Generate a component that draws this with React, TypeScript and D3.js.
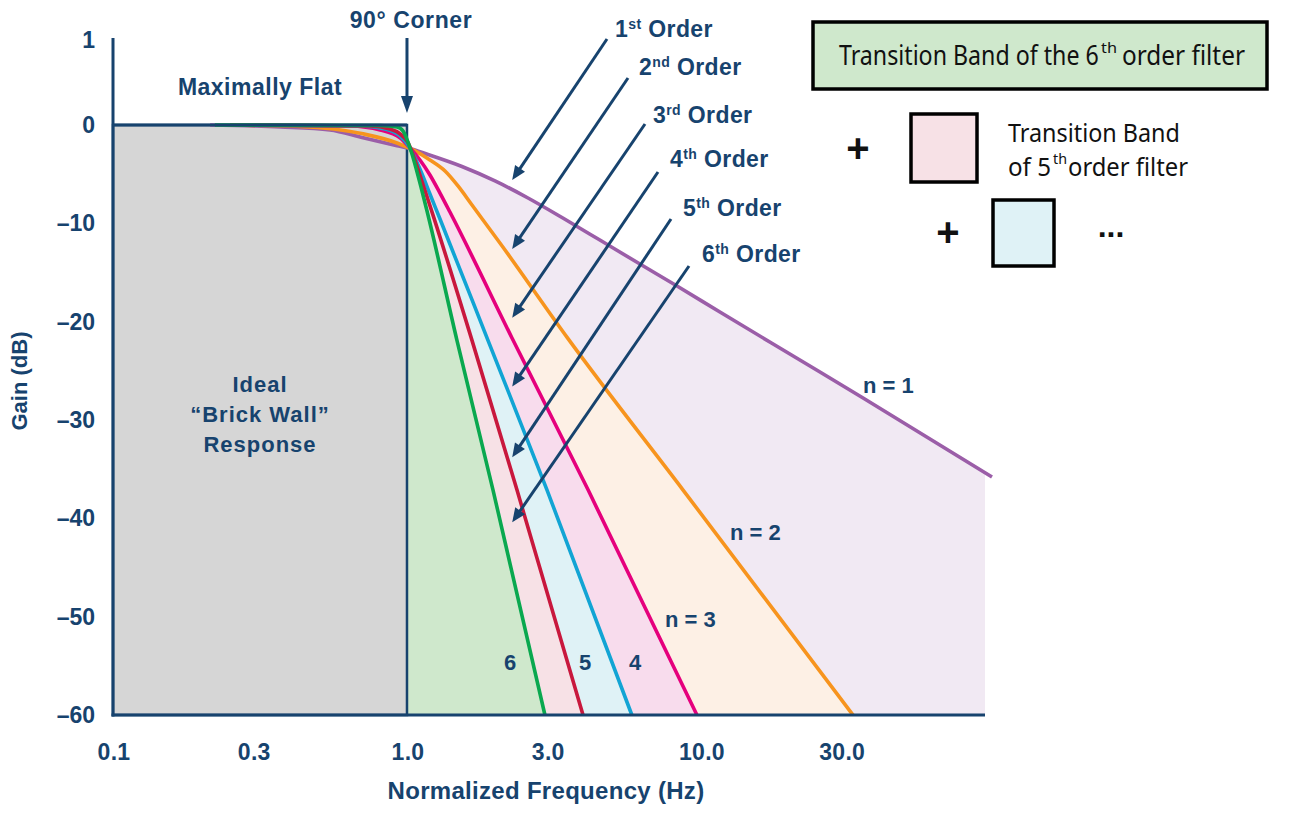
import React, { useLayoutEffect, useRef, useState } from "react";
import * as d3 from "d3";

// ---------- data ----------
type Pt = [number, number]; // [normalized frequency, gain dB]

const FREQ_TICKS = [0.1, 0.3, 1.0, 3.0, 10.0, 30.0];
const FREQ_TICK_LABELS = ["0.1", "0.3", "1.0", "3.0", "10.0", "30.0"];
const GAIN_TICKS = [1, 0, -10, -20, -30, -40, -50, -60];
const GAIN_TICK_LABELS = ["1", "0", "–10", "–20", "–30", "–40", "–50", "–60"];

const ORDER_1: Pt[] = [
  [0.214, 0], [0.37, -0.2], [0.547, -0.5], [0.709, -1.3], [0.925, -2.1], [1.008, -2.35],
  [1.179, -3.0], [1.538, -4.22], [1.992, -5.69], [2.58, -7.42], [3.39, -9.46], [4.53, -11.7],
  [6.2, -14.14], [8.29, -16.37], [11.6, -19.02], [21.7, -23.9], [35.6, -27.76], [97.7, -35.8],
];
const ORDER_2: Pt[] = [
  [0.25, 0], [0.433, -0.15], [0.709, -0.9], [0.925, -1.83], [1.065, -2.64], [1.197, -3.56],
  [1.347, -4.68], [1.491, -6.2], [1.664, -8.14], [2.071, -12.0], [3.53, -21.73], [8.68, -37.1],
  [32.9, -60],
];
const ORDER_3: Pt[] = [
  [0.292, 0], [0.64, -0.1], [0.81, -0.5], [0.947, -1.3], [1.024, -2.34], [1.107, -3.56],
  [1.197, -5.08], [1.295, -6.92], [1.4, -8.85], [2.276, -21.66], [4.13, -37.1], [9.69, -60],
];
const ORDER_4: Pt[] = [
  [0.27, 0], [0.692, -0.1], [0.842, -0.4], [0.947, -1.1], [1.008, -2.03], [1.065, -3.36],
  [1.125, -4.98], [1.197, -7.02], [1.295, -9.56], [1.886, -21.9], [2.993, -37.1], [5.82, -60],
];
const ORDER_5: Pt[] = [
  [0.25, 0], [0.748, -0.1], [0.875, -0.4], [0.947, -0.9], [1.008, -1.8], [1.065, -3.6],
  [1.125, -5.75], [1.197, -8.2], [1.664, -21.9], [2.366, -37.1], [3.97, -60],
];
const ORDER_6: Pt[] = [
  [0.222, 0], [0.81, -0.05], [0.925, -0.2], [0.969, -0.6], [1.008, -1.73], [1.04, -2.95],
  [1.073, -4.37], [1.116, -6.31], [1.17, -8.75], [1.479, -21.9], [1.961, -37.1], [2.946, -60],
];

const ORDERS = [1, 2, 3, 4, 5, 6];
const ORDER_POINTS = [ORDER_1, ORDER_2, ORDER_3, ORDER_4, ORDER_5, ORDER_6];
const LINE_COLORS = ["#9b5ea8", "#f7941e", "#e5007d", "#12a4d4", "#c8183d", "#0aa84f"];
const BAND_COLORS = ["#f1e9f3", "#fdf0e5", "#f8dced", "#dff2f6", "#f7e1e6", "#cfe8cc"];

const ORDER_SUFFIX = ["st", "nd", "rd", "th", "th", "th"];
const ARROW_TIP_FREQ = 2.28;
const ARROW_TIP_GAIN = [-5.6, -12.6, -19.6, -26.6, -33.8, -40.4];

const LEGEND_TEXTS = [
  "Transition Band of the 6", "th", "order filter",
  "Transition Band", "of 5", "th", "order filter",
];

const F_MIN = 0.1;
const F_MAX = 92.5;
const G_MIN = -60;

// ---------- styling ----------
const NAVY = "#17436e";
const FONT = "'Liberation Sans', Arial, Helvetica, sans-serif";
const LEG_FONT = "'Noto Sans', 'Open Sans', sans-serif";

// legend text layout: [x, baseline y, font size, target width]
const LEGEND_LAYOUT: [number, number, number, number][] = [
  [839, 65, 27, 260], [1101, 53, 14, 16], [1122, 65, 27, 123],
  [1008, 142, 26, 172], [1008, 176, 26, 43], [1053, 164, 14, 14], [1068, 176, 26, 120],
];

function Arrow({ x1, y1, x2, y2, head = 14, hw = 6, w = 3 }: any) {
  const dx = x2 - x1, dy = y2 - y1;
  const L = Math.hypot(dx, dy);
  const ux = dx / L, uy = dy / L;
  const bx = x2 - ux * head, by = y2 - uy * head;
  const px = -uy, py = ux;
  return (
    <g>
      <line x1={x1} y1={y1} x2={bx + ux * 2} y2={by + uy * 2} stroke={NAVY} strokeWidth={w} />
      <polygon
        points={`${x2},${y2} ${bx + px * hw},${by + py * hw} ${bx - px * hw},${by - py * hw}`}
        fill={NAVY}
      />
    </g>
  );
}

export default function App() {
  const legRefs = useRef<(SVGTextElement | null)[]>([]);
  const [legScale, setLegScale] = useState<number[] | null>(null);

  useLayoutEffect(() => {
    const s = LEGEND_LAYOUT.map((l, i) => {
      const el = legRefs.current[i];
      const w = el ? el.getComputedTextLength() : l[3];
      return w > 0 ? l[3] / w : 1;
    });
    setLegScale(s);
  }, []);

  const x = d3.scaleLog().domain([F_MIN, F_MAX]).range([113, 985]);
  const y = d3.scaleLinear().domain([G_MIN, 0, 1]).range([715, 125, 40]);

  const line = d3
    .line<Pt>()
    .x((d) => x(d[0]))
    .y((d) => y(d[1]))
    .curve(d3.curveMonotoneX);
  const area = d3
    .area<Pt>()
    .x((d) => x(d[0]))
    .y0(y(G_MIN))
    .y1((d) => y(d[1]))
    .curve(d3.curveMonotoneX);

  const x0 = x(F_MIN), x1 = x(1), xEnd = x(F_MAX);
  const yTop = y(0), yBot = y(G_MIN);

  // annotation layout (label anchors, pixels)
  const labelPos: [number, number][] = [
    [615, 37], [639, 75], [653, 123], [670, 167], [683, 216], [702, 262],
  ];
  const tailPos: [number, number][] = [
    [607, 39], [628, 78], [645, 124], [658, 172], [671, 219], [689, 266],
  ];

  const txt = { fontFamily: FONT, fontWeight: 700, fill: NAVY } as any;

  return (
    <svg
      width={1300}
      height={817}
      style={{ position: "absolute", left: 0, top: 0, display: "block", background: "#fff" }}
    >
      <defs>
        <clipPath id="bandClip">
          <rect x={x1} y={0} width={xEnd - x1} height={yBot} />
        </clipPath>
      </defs>

      {/* transition band fills */}
      <g clipPath="url(#bandClip)">
        {ORDER_POINTS.map((pts, i) => (
          <path key={"a" + i} d={area(pts) as string} fill={BAND_COLORS[i]} />
        ))}
      </g>

      {/* ideal brick wall */}
      <rect
        x={x0}
        y={yTop}
        width={x1 - x0}
        height={yBot - yTop}
        fill="#d6d6d6"
        stroke={NAVY}
        strokeWidth={2.5}
      />

      {/* response curves */}
      {ORDER_POINTS.map((pts, i) => (
        <path
          key={"l" + i}
          d={line(pts) as string}
          fill="none"
          stroke={LINE_COLORS[i]}
          strokeWidth={3.6}
          strokeLinejoin="round"
        />
      ))}

      {/* axes */}
      <line x1={x0} y1={y(1) - 2} x2={x0} y2={yBot + 1.5} stroke={NAVY} strokeWidth={3} />
      <line x1={x0 - 1.5} y1={yBot} x2={xEnd} y2={yBot} stroke={NAVY} strokeWidth={3} />
      <line x1={x0} y1={yTop} x2={x1} y2={yTop} stroke={NAVY} strokeWidth={3} />

      {GAIN_TICKS.map((g, i) => (
        <text key={"gy" + i} x={95} y={y(g) + 8} textAnchor="end" fontSize={23} {...txt}>
          {GAIN_TICK_LABELS[i]}
        </text>
      ))}
      {FREQ_TICKS.map((f, i) => (
        <text key={"fx" + i} x={x(f) + 1} y={760} textAnchor="middle" fontSize={23} letterSpacing={0.3} {...txt}>
          {FREQ_TICK_LABELS[i]}
        </text>
      ))}
      <text x={546} y={799} textAnchor="middle" fontSize={24} letterSpacing={0.3} {...txt}>
        Normalized Frequency (Hz)
      </text>
      <text
        transform={`translate(27,381) rotate(-90)`}
        textAnchor="middle"
        fontSize={22}
        {...txt}
      >
        Gain (dB)
      </text>

      {/* annotations inside plot */}
      <text x={(x0 + x1) / 2} y={95} textAnchor="middle" fontSize={23} letterSpacing={0.5} {...txt}>
        Maximally Flat
      </text>
      <text x={x1 + 4} y={28} textAnchor="middle" fontSize={23} letterSpacing={0.6} {...txt}>
        90° Corner
      </text>
      <Arrow x1={x1} y1={38} x2={x1} y2={yTop - 12} head={17} hw={6} />

      <g fontFamily={FONT} fontSize={22} fill={NAVY} textAnchor="middle" fontWeight={700} letterSpacing={1}>
        <text x={(x0 + x1) / 2} y={392}>Ideal</text>
        <text x={(x0 + x1) / 2} y={422}>“Brick Wall”</text>
        <text x={(x0 + x1) / 2} y={452}>Response</text>
      </g>

      {ORDERS.map((n, i) => (
        <g key={"ord" + n}>
          <Arrow
            x1={tailPos[i][0]}
            y1={tailPos[i][1]}
            x2={x(ARROW_TIP_FREQ)}
            y2={y(ARROW_TIP_GAIN[i])}
            head={14}
            hw={6}
          />
          <text x={labelPos[i][0]} y={labelPos[i][1]} fontSize={23} letterSpacing={0.4} {...txt}>
            {String(n)}
            <tspan fontSize={14} dy={-8}>{ORDER_SUFFIX[i]}</tspan>
            <tspan dy={8}> Order</tspan>
          </text>
        </g>
      ))}

      <text x={863} y={393} fontSize={22} {...txt}>n = 1</text>
      <text x={730} y={540} fontSize={22} {...txt}>n = 2</text>
      <text x={665} y={627} fontSize={22} {...txt}>n = 3</text>
      <text x={510} y={670} textAnchor="middle" fontSize={22} {...txt}>6</text>
      <text x={585} y={670} textAnchor="middle" fontSize={22} {...txt}>5</text>
      <text x={635} y={670} textAnchor="middle" fontSize={22} {...txt}>4</text>

      {/* legend */}
      <rect x={813} y={22} width={454} height={67} fill={BAND_COLORS[5]} stroke="#000" strokeWidth={3.5} />
      <rect x={911} y={114} width={66} height={68} fill={BAND_COLORS[4]} stroke="#000" strokeWidth={3.5} />
      <rect x={993} y={200} width={61} height={66} fill={BAND_COLORS[3]} stroke="#000" strokeWidth={3.5} />
      <g fontFamily={LEG_FONT} fill="#111">
        {LEGEND_TEXTS.map((t, i) => {
          const [lx, ly, fs] = LEGEND_LAYOUT[i];
          const s = legScale ? legScale[i] : 1;
          return (
            <text
              key={"lg" + i}
              ref={(el) => {
                legRefs.current[i] = el;
              }}
              transform={`translate(${lx},${ly}) scale(${s},1)`}
              fontSize={fs}
              visibility={legScale ? "visible" : "hidden"}
            >
              {t}
            </text>
          );
        })}
      </g>
      <g fontFamily={FONT} fontWeight={700} fill="#111" textAnchor="middle">
        <text x={858} y={162} fontSize={40}>+</text>
        <text x={948} y={246} fontSize={40}>+</text>
        <text x={1111} y={237} fontSize={32}>...</text>
      </g>
    </svg>
  );
}
